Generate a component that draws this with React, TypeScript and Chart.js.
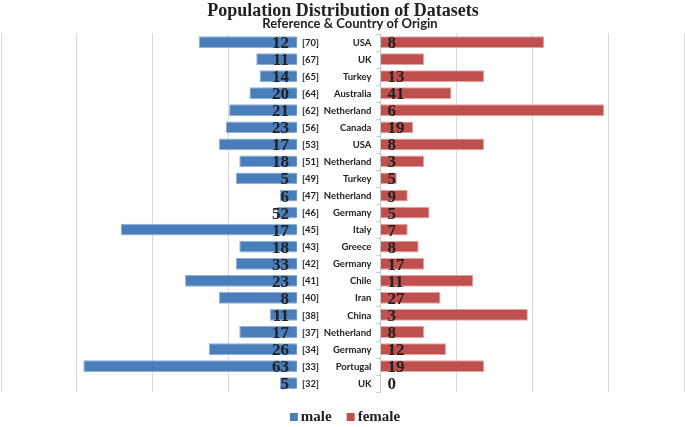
import React, { useEffect, useRef } from 'react';
import { Chart, registerables } from 'chart.js';

Chart.register(...registerables);

const categories = ['USA', 'UK', 'Turkey', 'Australia', 'Netherland', 'Canada', 'USA', 'Netherland', 'Turkey', 'Netherland', 'Germany', 'Italy', 'Greece', 'Germany', 'Chile', 'Iran', 'China', 'Netherland', 'Germany', 'Portugal', 'UK'];
const references = ['[70]', '[67]', '[65]', '[64]', '[62]', '[56]', '[53]', '[51]', '[49]', '[47]', '[46]', '[45]', '[43]', '[42]', '[41]', '[40]', '[38]', '[37]', '[34]', '[33]', '[32]'];
const maleValues = [29, 12, 11, 14, 20, 21, 23, 17, 18, 5, 6, 52, 17, 18, 33, 23, 8, 17, 26, 63, 5];
const femaleValues = [30, 8, 19, 13, 41, 6, 19, 8, 3, 5, 9, 5, 7, 8, 17, 11, 27, 8, 12, 19, 0];
const maleLabels = ['12', '11', '14', '20', '21', '23', '17', '18', '5', '6', '52', '17', '18', '33', '23', '8', '11', '17', '26', '63', '5'];
const femaleLabels = ['8', '', '13', '41', '6', '19', '8', '3', '5', '9', '5', '7', '8', '17', '11', '27', '3', '8', '12', '19', '0'];

const TITLE = 'Population Distribution of Datasets';
const SUBTITLE = 'Reference & Country of Origin';
const seriesNames = ['male', 'female'];

const BLUE = '#4a7ebb';
const RED = '#c0504d';
const TEXT = '#222222';

export default function App() {
  const ref = useRef<HTMLCanvasElement | null>(null);

  useEffect(() => {
    const canvas = ref.current;
    if (!canvas) return;

    const decorPlugin = {
      id: 'butterflyDecor',
      afterDatasetsDraw(chart: any) {
        const ctx = chart.ctx as CanvasRenderingContext2D;
        const y = chart.scales.y;
        const xm = chart.scales.xm;
        const xf = chart.scales.xf;
        const male0 = xm.getPixelForValue(0);
        const female0 = xf.getPixelForValue(0);
        ctx.save();
        // small tick marks on the central axis
        ctx.strokeStyle = '#c6c6c6';
        ctx.lineWidth = 1;
        for (let i = 0; i <= categories.length; i++) {
          const py = Math.round(y.getPixelForValue(i - 0.5)) + 0.5;
          ctx.beginPath();
          ctx.moveTo(female0 - 4, py);
          ctx.lineTo(female0, py);
          ctx.stroke();
        }
        // category labels
        ctx.fillStyle = TEXT;
        ctx.font = "bold 9.5px Lato";
        ctx.textBaseline = 'middle';
        categories.forEach((c, i) => {
          const py = y.getPixelForValue(i) + 0.5;
          ctx.textAlign = 'left';
          ctx.fillText(references[i], male0 + 5, py);
          ctx.textAlign = 'right';
          ctx.fillText(c, female0 - 9, py);
        });
        // value labels
        ctx.font = "bold 17px 'Liberation Serif'";
        ctx.textBaseline = 'alphabetic';
        categories.forEach((_, i) => {
          const py = y.getPixelForValue(i) + 6;
          ctx.textAlign = 'right';
          if (maleLabels[i]) ctx.fillText(maleLabels[i], male0 - 8, py);
          ctx.textAlign = 'left';
          if (femaleLabels[i]) ctx.fillText(femaleLabels[i], female0 + 7, py);
        });
        ctx.restore();
      },
      afterDraw(chart: any) {
        const ctx = chart.ctx as CanvasRenderingContext2D;
        ctx.save();
        ctx.fillStyle = TEXT;
        ctx.textAlign = 'center';
        ctx.textBaseline = 'alphabetic';
        ctx.font = "bold 18px 'Liberation Serif'";
        ctx.fillText(TITLE, 343, 16);
        ctx.font = "bold 13px Lato";
        ctx.fillText(SUBTITLE, 350, 28);
        // legend
        ctx.font = "bold 15px 'Liberation Serif'";
        ctx.textAlign = 'left';
        const w1 = ctx.measureText(seriesNames[0]).width;
        const w2 = ctx.measureText(seriesNames[1]).width;
        const box = 8, gap = 3, sep = 15;
        const total = box + gap + w1 + sep + box + gap + w2;
        let x = 345 - total / 2;
        ctx.fillStyle = BLUE;
        ctx.fillRect(x, 413, box, box);
        x += box + gap;
        ctx.fillStyle = TEXT;
        ctx.fillText(seriesNames[0], x, 421);
        x += w1 + sep;
        ctx.fillStyle = RED;
        ctx.fillRect(x, 413, box, box);
        x += box + gap;
        ctx.fillStyle = TEXT;
        ctx.fillText(seriesNames[1], x, 421);
        ctx.restore();
      },
    };

    const chart = new Chart(canvas, {
      type: 'bar',
      data: {
        labels: categories,
        datasets: [
          {
            label: seriesNames[0],
            data: maleValues,
            xAxisID: 'xm',
            backgroundColor: BLUE,
            borderColor: '#8fb0da',
            borderWidth: 1,
          },
          {
            label: seriesNames[1],
            data: femaleValues,
            xAxisID: 'xf',
            backgroundColor: RED,
            borderColor: '#e2a3a1',
            borderWidth: 1,
          },
        ],
      },
      options: {
        indexAxis: 'y',
        responsive: false,
        maintainAspectRatio: false,
        animation: false,
        devicePixelRatio: 1,
        grouped: false,
        barPercentage: 0.69,
        categoryPercentage: 1,
        layout: { padding: { top: 33.5, bottom: 35.3, left: 1, right: 1 } },
        plugins: {
          legend: { display: false },
          title: { display: false },
          tooltip: { enabled: false },
        },
        scales: {
          y: { type: 'category', display: false, offset: true },
          xf: {
            type: 'linear',
            position: 'bottom',
            min: -69.5,
            max: 55.6,
            ticks: { display: false, count: 10 },
            border: { display: false },
            grid: {
              drawTicks: false,
              lineWidth: 1,
              color: (c: any) => (c.index === 4 ? 'rgba(0,0,0,0)' : c.index === 5 ? '#c6c6c6' : '#d9d9d9'),
            },
          },
          xm: {
            type: 'linear',
            position: 'bottom',
            display: false,
            reverse: true,
            min: -114.2,
            max: 87.3,
          },
        },
      } as any,
      plugins: [decorPlugin],
    });

    return () => chart.destroy();
  }, []);

  return (
    <div style={{ position: 'absolute', left: 0, top: 0, width: 685, height: 427, background: '#fff' }}>
      <canvas ref={ref} width={685} height={427} style={{ display: 'block' }} />
    </div>
  );
}
